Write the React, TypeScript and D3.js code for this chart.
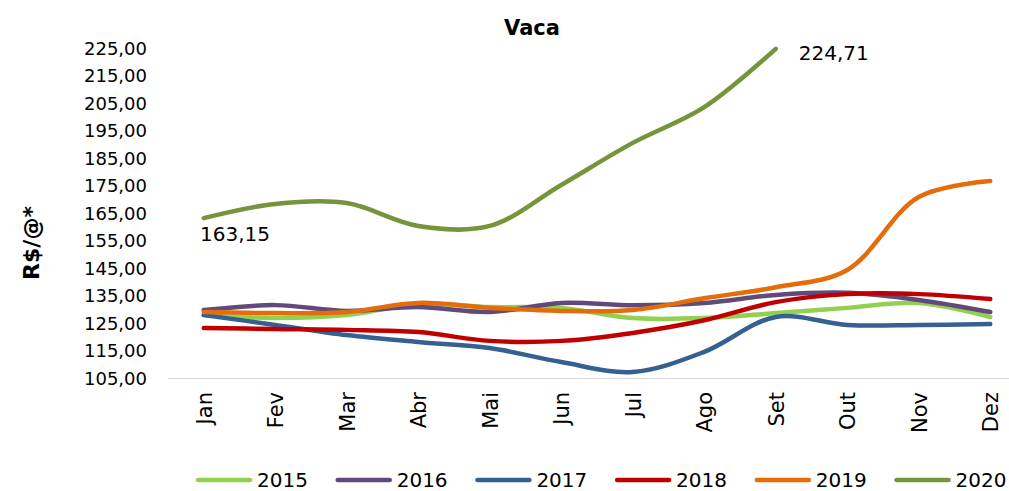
import React from "react";
import * as d3 from "d3";

const months = ["Jan", "Fev", "Mar", "Abr", "Mai", "Jun", "Jul", "Ago", "Set", "Out", "Nov", "Dez"];
const yTicks = [105, 115, 125, 135, 145, 155, 165, 175, 185, 195, 205, 215, 225];

const v2015 = [127.9, 126.8, 127.9, 131.9, 130.8, 130.5, 126.8, 126.8, 128.6, 130.5, 132.3, 127.2];
const v2016 = [129.7, 131.5, 129.4, 130.8, 129.0, 132.3, 131.5, 132.3, 135.2, 136.0, 133.4, 129.0];
const v2017 = [127.9, 124.3, 120.6, 118.1, 115.9, 110.8, 107.2, 114.5, 127.2, 124.3, 124.3, 124.6];
const v2018 = [123.2, 122.8, 122.5, 121.7, 118.5, 118.5, 121.4, 126.0, 132.6, 135.5, 135.5, 133.7];
const v2019 = [129.0, 128.6, 129.0, 132.3, 130.5, 129.4, 129.7, 134.0, 138.0, 144.3, 170.8, 176.6];
const v2020 = [163.15, 168.3, 168.6, 160.3, 160.3, 175.2, 190.5, 203.5, 224.71];

const seriesNames = ["2015", "2016", "2017", "2018", "2019", "2020"];
const seriesValues = [v2015, v2016, v2017, v2018, v2019, v2020];
const seriesColors = ["#92D050", "#604A7B", "#376092", "#C00000", "#E46C0A", "#77933C"];

const fmt = (v: number) => v.toFixed(2).replace(".", ",");

export default function App() {
  const W = 1009, H = 491;
  const x = d3.scaleBand<string>().domain(months).range([168, 1026]);
  const y = d3.scaleLinear().domain([105, 225]).range([378, 48]);
  const cx = (m: string) => (x(m) as number) + x.bandwidth() / 2;
  const line = d3
    .line<number>()
    .x((_, i) => cx(months[i]))
    .y((d) => y(d))
    .curve(d3.curveCatmullRom.alpha(0.5));
  const font = "DejaVu Sans, sans-serif";
  const last2020 = v2020.length - 1;
  return (
    <svg width={W} height={H} style={{ position: "absolute", left: 0, top: 0, background: "#fff" }}>
      <text x={532} y={35} textAnchor="middle" fontFamily={font} fontWeight="bold" fontSize={21} fill="#000">
        Vaca
      </text>
      <text
        transform={`translate(39,243) rotate(-90)`}
        textAnchor="middle"
        fontFamily={font}
        fontWeight="bold"
        fontSize={22}
        fill="#000"
      >
        R$/@*
      </text>
      {yTicks.map((t) => (
        <text key={t} x={147} y={y(t) + 6.5} textAnchor="end" fontFamily={font} fontSize={18} fill="#000">
          {fmt(t)}
        </text>
      ))}
      <line x1={168} x2={1026} y1={378.5} y2={378.5} stroke="#d9d9d9" strokeWidth={1} />
      {months.map((m) => (
        <text
          key={m}
          transform={`translate(${cx(m) + 8},392) rotate(-90)`}
          textAnchor="end"
          fontFamily={font}
          fontSize={21}
          fill="#000"
        >
          {m}
        </text>
      ))}
      {seriesValues.map((vals, i) => (
        <path
          key={seriesNames[i]}
          d={line(vals) as string}
          fill="none"
          stroke={seriesColors[i]}
          strokeWidth={4.5}
          strokeLinecap="round"
          strokeLinejoin="round"
        />
      ))}
      <text x={200} y={241} fontFamily={font} fontSize={20} fill="#000">
        {fmt(v2020[0])}
      </text>
      <text x={cx(months[last2020]) + 23} y={60} fontFamily={font} fontSize={20} fill="#000">
        {fmt(v2020[last2020])}
      </text>
      {seriesNames.map((n, i) => {
        const lx = 198 + i * 139.7;
        return (
          <g key={n}>
            <line x1={lx} x2={lx + 52} y1={480} y2={480} stroke={seriesColors[i]} strokeWidth={4.5} strokeLinecap="round" />
            <text x={lx + 59} y={487} fontFamily={font} fontSize={20} fill="#000">
              {n}
            </text>
          </g>
        );
      })}
    </svg>
  );
}
